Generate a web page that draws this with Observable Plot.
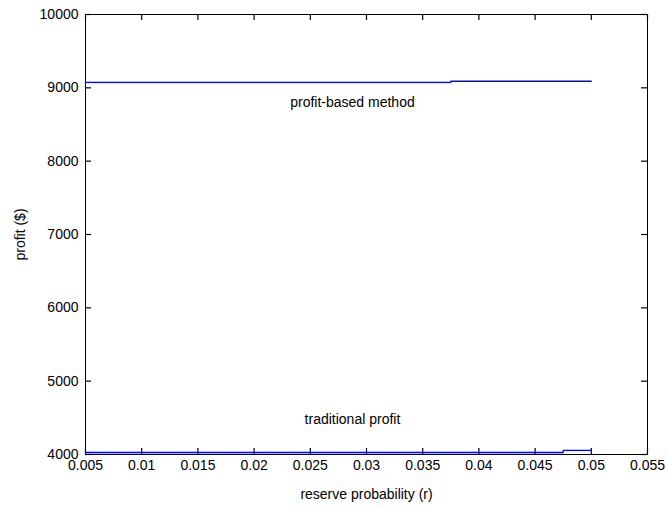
<!DOCTYPE html>
<html>
<head>
<meta charset="utf-8">
<script src="https://cdn.jsdelivr.net/npm/d3@7"></script>
<script src="https://cdn.jsdelivr.net/npm/@observablehq/plot@0.6"></script>
<style>
  html, body { margin: 0; padding: 0; background: #fff; }
  #chart svg { display: block; }
</style>
</head>
<body>
<div id="chart"></div>
<script>
const r = [0.005, 0.0075, 0.01, 0.0125, 0.015, 0.0175, 0.02, 0.0225, 0.025, 0.0275,
           0.03, 0.0325, 0.035, 0.0375, 0.04, 0.0425, 0.045, 0.0475, 0.05];
const profitBased = [9075, 9075, 9075, 9075, 9075, 9075, 9075, 9075, 9075, 9075,
                     9075, 9075, 9075, 9090, 9090, 9090, 9090, 9090, 9090];
const traditional = [4027, 4027, 4027, 4027, 4027, 4027, 4027, 4027, 4027, 4027,
                     4027, 4027, 4027, 4027, 4027, 4027, 4027, 4055, 4055];
const xTicks = [0.005, 0.01, 0.015, 0.02, 0.025, 0.03, 0.035, 0.04, 0.045, 0.05, 0.055];
const yTicks = [4000, 5000, 6000, 7000, 8000, 9000, 10000];
const labels = [
  {x: 0.02875, y: 8800, text: "profit-based method"},
  {x: 0.02875, y: 4480, text: "traditional profit"}
];

const series1 = r.map((v, i) => ({r: v, p: profitBased[i]}));
const series2 = r.map((v, i) => ({r: v, p: traditional[i]}));
const fmt = d => String(+d.toFixed(3));

const W = 667, H = 506, mL = 85, mR = 20, mT = 14, mB = 52;
const fw = W - mL - mR, fh = H - mT - mB, tl = 6;

const chart = Plot.plot({
  width: W,
  height: H,
  marginLeft: mL,
  marginRight: mR,
  marginTop: mT,
  marginBottom: mB,
  style: {fontFamily: "'Liberation Sans', Arial, sans-serif", fontSize: "14px", color: "#000", background: "#fff"},
  x: {domain: [0.005, 0.055]},
  y: {domain: [4000, 10000]},
  marks: [
    Plot.frame({stroke: "#000"}),
    Plot.ruleX(xTicks, {x: d => d, insetTop: fh - tl, stroke: "#000", strokeWidth: 1.2}),
    Plot.ruleX(xTicks, {x: d => d, insetBottom: fh - tl, stroke: "#000", strokeWidth: 1.2}),
    Plot.ruleY(yTicks, {y: d => d, insetRight: fw - tl, stroke: "#000", strokeWidth: 1.2}),
    Plot.ruleY(yTicks, {y: d => d, insetLeft: fw - tl, stroke: "#000", strokeWidth: 1.2}),
    Plot.axisX({ticks: xTicks, tickFormat: fmt, tickSize: 0, tickPadding: 6, fontSize: 14,
      label: "reserve probability (r)", labelAnchor: "center", labelArrow: "none", labelOffset: 44}),
    Plot.axisY({ticks: yTicks, tickFormat: d => String(d), tickSize: 0, tickPadding: 7, fontSize: 14,
      label: "profit ($)", labelAnchor: "center", labelArrow: "none", labelOffset: 70}),
    Plot.line(series1, {x: "r", y: "p", stroke: "#0000ff", strokeWidth: 1.3, curve: "step-after"}),
    Plot.line(series2, {x: "r", y: "p", stroke: "#0000ff", strokeWidth: 1.3, curve: "step-after"}),
    Plot.text(labels, {x: "x", y: "y", text: "text", fontSize: 14, fill: "#000"})
  ]
});
document.getElementById("chart").appendChild(chart);
</script>
</body>
</html>
